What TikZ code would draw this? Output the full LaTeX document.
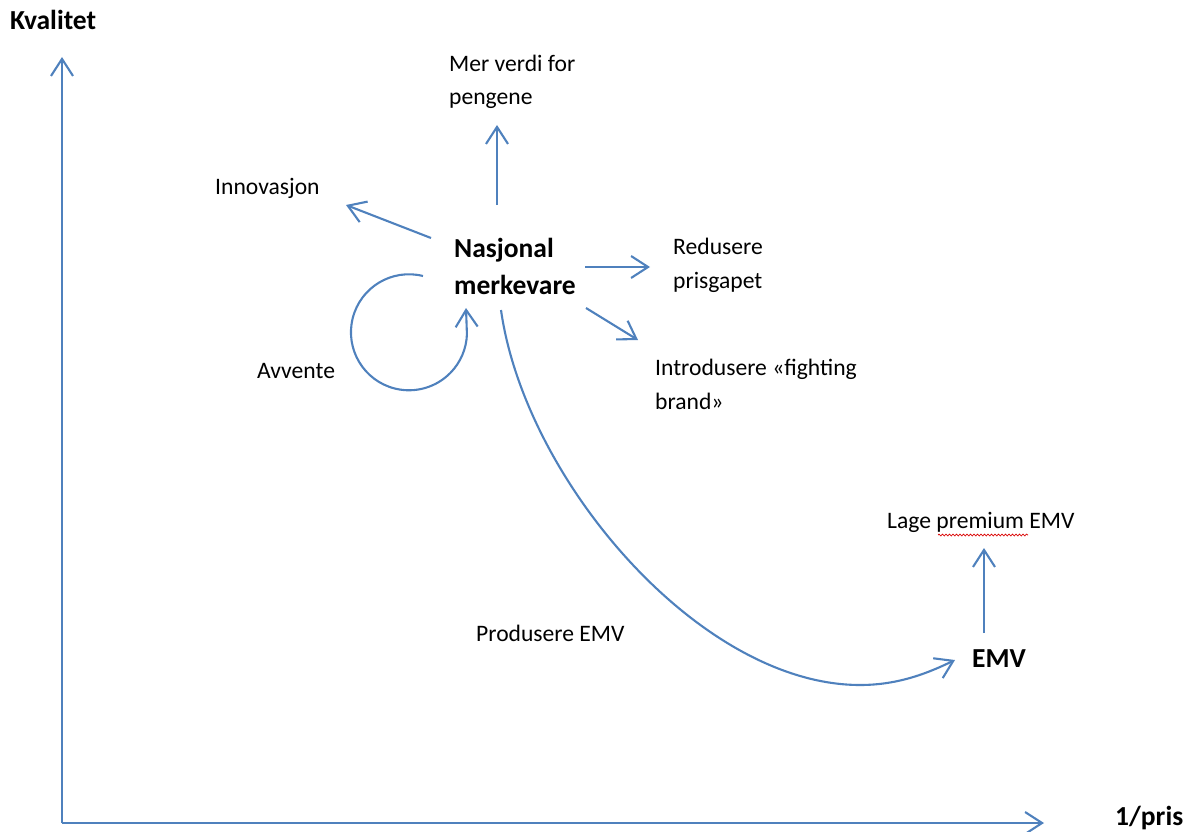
\documentclass[tikz,border=0pt]{standalone}
\usepackage{fontspec}
\setmainfont{Carlito}
\usetikzlibrary{arrows.meta,decorations.pathmorphing}
\definecolor{lineblue}{RGB}{79,129,189}
\tikzset{
  lbl/.style={inner sep=0pt, anchor=base west, align=left, font=\fontsize{23.6}{33.5}\selectfont},
  blbl/.style={inner sep=0pt, anchor=base west, align=left, font=\bfseries\fontsize{27.5}{37}\selectfont},
  conn/.style={draw=lineblue, line width=2.1pt, -{Straight Barb[length=17pt,width=22pt,line width=2.1pt]}},
  spell/.style={draw=red!85!black, line width=0.7pt, decorate, decoration={snake, amplitude=0.9pt, segment length=3.5pt}}
}
\begin{document}
\begin{tikzpicture}[x=1pt,y=1pt]
\useasboundingbox (0,0) rectangle (1191,-832);
% axes
\coordinate (O) at (62,-823);
\coordinate (ytip) at (62,-57);
\coordinate (xtip) at (1044,-823);
\draw[conn] (O) -- (ytip);
\draw[conn] (O) -- (xtip);
\node[blbl] (kval) at (10,-30) {Kvalitet};
\node[blbl] (pris) at (1115,-825) {1/pris};
% labels (multi-line nodes: base = last line's baseline)
\node[blbl] (nm) at (454,-294) {Nasjonal\\merkevare};
\node[lbl] (mer) at (449,-105) {Mer verdi for\\pengene};
\node[lbl] (inn) at (215,-194) {Innovasjon};
\node[lbl] (red) at (673,-288) {Redusere\\prisgapet};
\node[lbl] (intro) at (655,-409) {Introdusere «fighting\\brand»};
\node[lbl] (avv) at (257,-378) {Avvente};
\node[lbl] (prod) at (476,-641) {Produsere EMV};
\node[blbl] (emv) at (972,-667) {EMV};
\node[lbl] (lage) at (887,-528) {Lage premium EMV};
\draw[spell] (938,-535) -- (1028,-535);
% connector end points
\coordinate (nmUp) at (497,-205);
\coordinate (merB) at (497,-125);
\coordinate (nmL) at (431,-238);
\coordinate (innT) at (346,-205);
\coordinate (nmR) at (585,-267);
\coordinate (redT) at (650,-267);
\coordinate (nmD) at (586,-308);
\coordinate (introT) at (638,-340);
\coordinate (loopS) at (423,-276);
\coordinate (loopT) at (466,-308);
\coordinate (nmB) at (501,-310);
\coordinate (emvL) at (955,-660);
\coordinate (emvT) at (984,-633);
\coordinate (lageB) at (984,-548);
% connectors
\draw[conn] (nmUp) -- (merB);
\draw[conn] (nmL) -- (innT);
\draw[conn] (nmR) -- (redT);
\draw[conn] (nmD) -- (introT);
\draw[conn] (loopS) arc[start angle=76, end angle=358, radius=58] -- (loopT);
\draw[conn] (nmB) .. controls (525,-480) and (700,-685) .. (860,-685)
  .. controls (900,-685) and (930,-672) .. (emvL);
\draw[conn] (emvT) -- (lageB);
\end{tikzpicture}
\end{document}
